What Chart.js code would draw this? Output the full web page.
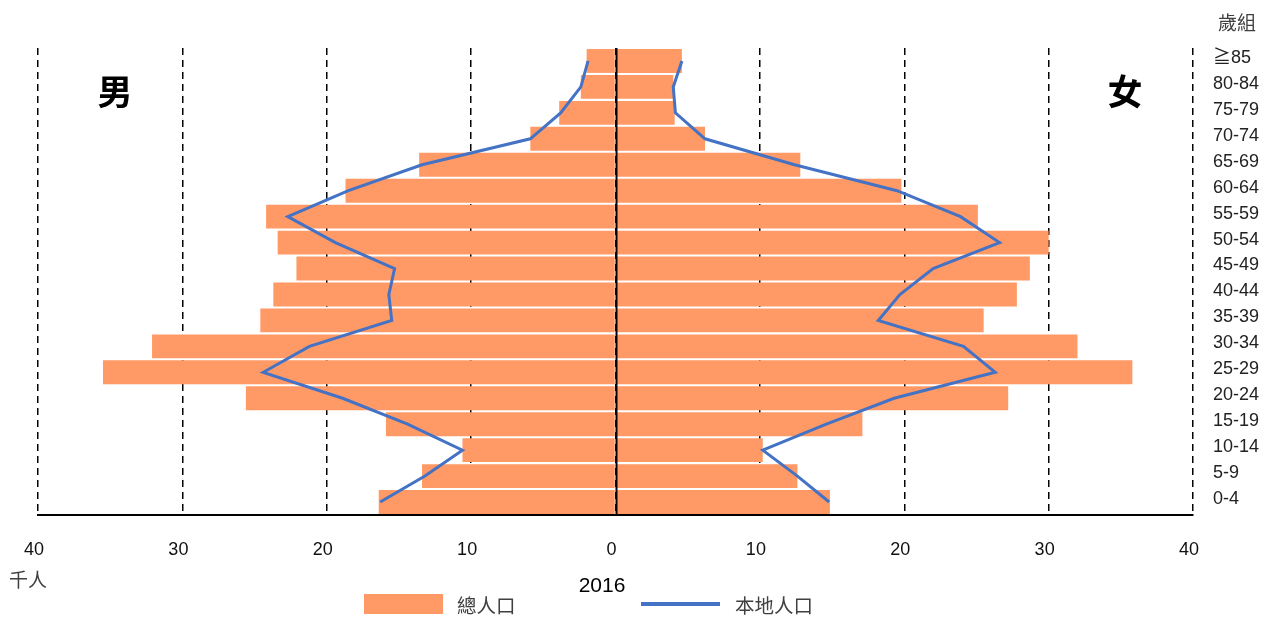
<!DOCTYPE html>
<html>
<head>
<meta charset="utf-8">
<script src="https://cdn.jsdelivr.net/npm/chart.js@4/dist/chart.umd.min.js"></script>
<style>
html,body{margin:0;padding:0;background:#fff;}
#wrap{position:relative;width:1268px;height:617px;}
</style>
</head>
<body>
<div id="wrap"><canvas id="c" width="1268" height="617"></canvas></div>
<script>
const ageGroups = ['≧85','80-84','75-79','70-74','65-69','60-64','55-59','50-54','45-49','40-44','35-39','30-34','25-29','20-24','15-19','10-14','5-9','0-4'];
const maleTotal   = [2.0, 2.4, 3.9, 5.9, 13.6, 18.7, 24.2, 23.4, 22.1, 23.7, 24.6, 32.1, 35.5, 25.6, 15.9, 10.6, 13.4, 16.4];
const femaleTotal = [4.6, 4.0, 4.1, 6.2, 12.8, 19.8, 25.1, 30.0, 28.7, 27.8, 25.5, 32.0, 35.8, 27.2, 17.1, 10.2, 12.6, 14.85];
const maleLocal   = [1.9, 2.4, 3.8, 5.9, 13.4, 18.5, 22.7, 19.4, 15.3, 15.7, 15.5, 21.2, 24.4, 18.9, 14.4, 10.6, 13.2, 16.3];
const femaleLocal = [4.6, 4.0, 4.15, 6.2, 12.4, 19.5, 23.9, 26.6, 22.0, 19.7, 18.2, 24.1, 26.3, 19.3, 14.6, 10.2, 12.6, 14.8];
const xTicks = [-40, -30, -20, -10, 0, 10, 20, 30, 40];
const seriesNames = ['總人口', '本地人口'];
const sideLabels = ['男', '女'];
const yearLabel = '2016';
const unitLabel = '千人';
const ageTitle = '歲組';

const BAR = '#FF9966';
const LINE = '#4472C4';
const FONT = "'Liberation Sans', 'Noto Sans CJK TC', Arial, sans-serif";

const extras = {
  id: 'extras',
  afterDatasetsDraw(chart) {
    const ctx = chart.ctx;
    const x = chart.scales.x;
    const ca = chart.chartArea;
    const x0 = Math.round(x.getPixelForValue(0)) + 0.5;
    ctx.save();
    ctx.strokeStyle = '#000';
    ctx.lineWidth = 2;
    ctx.beginPath();
    ctx.moveTo(x0, ca.top);
    ctx.lineTo(x0, ca.bottom);
    ctx.stroke();
    ctx.restore();
  },
  afterDraw(chart) {
    const ctx = chart.ctx;
    ctx.save();
    ctx.textBaseline = 'middle';
    ctx.fillStyle = '#000';
    ctx.font = "bold 35px 'Noto Sans CJK TC', sans-serif";
    ctx.textAlign = 'center';
    ctx.fillText(sideLabels[0], 115, 92);
    ctx.fillText(sideLabels[1], 1125, 92);
    ctx.font = "19px 'Noto Sans CJK TC', sans-serif";
    ctx.fillStyle = '#404040';
    ctx.fillText(ageTitle, 1237, 23);
    ctx.textAlign = 'left';
    ctx.fillText(unitLabel, 9, 580);
    ctx.textAlign = 'center';
    ctx.fillStyle = '#000';
    ctx.font = "21px 'Liberation Sans', Arial, sans-serif";
    ctx.fillText(yearLabel, 602, 586);
    ctx.fillStyle = BAR;
    ctx.fillRect(364, 594, 79, 20);
    ctx.strokeStyle = LINE;
    ctx.lineWidth = 4;
    ctx.beginPath();
    ctx.moveTo(641, 604);
    ctx.lineTo(720, 604);
    ctx.stroke();
    ctx.fillStyle = '#404040';
    ctx.textAlign = 'left';
    ctx.font = "19.5px 'Noto Sans CJK TC', sans-serif";
    ctx.fillText(seriesNames[0], 457, 606);
    ctx.fillText(seriesNames[1], 735, 606);
    ctx.restore();
  }
};

new Chart(document.getElementById('c'), {
  type: 'bar',
  data: {
    labels: ageGroups,
    datasets: [
      { type: 'line', label: seriesNames[1], data: maleLocal.map(v => -v), borderColor: LINE, borderWidth: 3, pointRadius: 0, tension: 0, fill: false, order: 0 },
      { type: 'line', label: seriesNames[1], data: femaleLocal, borderColor: LINE, borderWidth: 3, pointRadius: 0, tension: 0, fill: false, order: 0 },
      { type: 'bar', label: seriesNames[0], data: maleTotal.map(v => -v), backgroundColor: BAR, grouped: false, barPercentage: 1, categoryPercentage: 0.92, order: 1 },
      { type: 'bar', label: seriesNames[0], data: femaleTotal, backgroundColor: BAR, grouped: false, barPercentage: 1, categoryPercentage: 0.92, order: 1 }
    ]
  },
  options: {
    indexAxis: 'y',
    responsive: false,
    animation: false,
    layout: { padding: { top: 48, left: 38, right: 0, bottom: 62 } },
    plugins: { legend: { display: false }, tooltip: { enabled: false } },
    scales: {
      x: {
        type: 'linear',
        min: -40, max: 40,
        afterBuildTicks: (s) => { s.ticks = xTicks.map(v => ({ value: v })); },
        afterFit: (s) => { s.height = 40; },
        grid: { color: '#000', lineWidth: 1.5, drawTicks: false },
        border: { display: true, color: '#000', width: 2, dash: [7, 5] },
        ticks: { padding: 24, labelOffset: -4, color: '#111', font: { family: FONT, size: 18 }, callback: (v) => String(Math.abs(v)) }
      },
      y: {
        position: 'right',
        afterFit: (s) => { s.width = 75; },
        grid: { display: false, drawTicks: false },
        border: { display: false },
        ticks: { padding: 20, labelOffset: -3, color: '#222', font: { family: FONT, size: 18 } }
      }
    }
  },
  plugins: [extras]
});
</script>
</body>
</html>
